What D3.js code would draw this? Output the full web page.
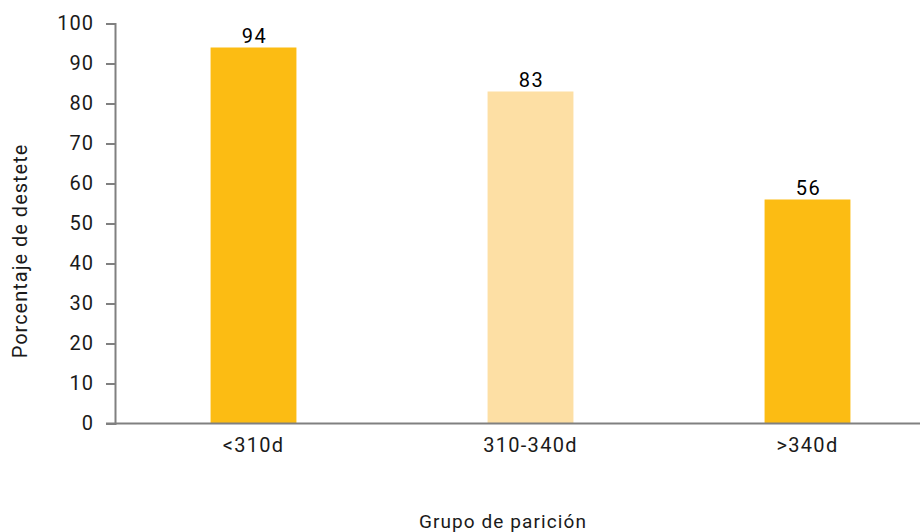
<!DOCTYPE html>
<html>
<head>
<meta charset="utf-8">
<script src="https://cdn.jsdelivr.net/npm/d3@7"></script>
<style>
  html, body { margin: 0; padding: 0; background: #fff; }
  svg text { font-family: Roboto, "Noto Sans", sans-serif; fill: #1a1a1a; }
</style>
</head>
<body>
<svg id="chart" width="920" height="532"></svg>
<script>
// Weaning percentage by calving group
const categories = ["<310d", "310-340d", ">340d"];
const values = [94, 83, 56];
const barColors = ["#FCBC13", "#FDDFA4", "#FCBC13"];
const yTicks = [0, 10, 20, 30, 40, 50, 60, 70, 80, 90, 100];

const svg = d3.select("#chart");
const axisColor = "#808080";

const x = d3.scaleBand()
  .domain(categories)
  .range([115, 946])
  .paddingInner(0.69)
  .paddingOuter(0.345);

const y = d3.scaleLinear().domain([0, 100]).range([423.5, 23.5]);

// Bars
svg.append("g").selectAll("rect")
  .data(values)
  .join("rect")
  .attr("x", (d, i) => x(categories[i]))
  .attr("y", d => y(d))
  .attr("width", x.bandwidth())
  .attr("height", d => y(0) - y(d))
  .attr("fill", (d, i) => barColors[i]);

// Value labels
svg.append("g").selectAll("text")
  .data(values)
  .join("text")
  .attr("x", (d, i) => x(categories[i]) + x.bandwidth() / 2 + 1)
  .attr("y", d => y(d) - 5)
  .attr("text-anchor", "middle")
  .attr("font-size", 20)
  .attr("letter-spacing", 1.5)
  .style("fill", "#000")
  .text(d => d);

// Y axis
const yAxis = svg.append("g")
  .attr("transform", "translate(115,0)")
  .call(d3.axisLeft(y).tickValues(yTicks).tickSize(9).tickPadding(12));
yAxis.select(".domain").attr("stroke", axisColor).attr("stroke-width", 2);
yAxis.selectAll(".tick line").attr("stroke", axisColor).attr("stroke-width", 2);
yAxis.selectAll(".tick text")
  .attr("font-size", 20)
  .attr("letter-spacing", 1)
  .attr("font-family", "Roboto, sans-serif")
  .style("fill", "#1a1a1a");

// X axis baseline
const xAxis = svg.append("g")
  .attr("transform", `translate(0,${y(0)})`)
  .call(d3.axisBottom(x).tickSize(0).tickPadding(14));
xAxis.select(".domain").attr("stroke", axisColor).attr("stroke-width", 2)
  .attr("d", "M106,0H920");
xAxis.selectAll(".tick text")
  .attr("font-size", 20)
  .attr("letter-spacing", 1.3)
  .attr("font-family", "Roboto, sans-serif")
  .style("fill", "#1a1a1a");

// Axis titles
svg.append("text")
  .attr("transform", "translate(27,251) rotate(-90)")
  .attr("text-anchor", "middle")
  .attr("font-size", 20)
  .attr("letter-spacing", 1)
  .text("Porcentaje de destete");

svg.append("text")
  .attr("x", 503)
  .attr("y", 528)
  .attr("text-anchor", "middle")
  .attr("font-size", 19)
  .attr("letter-spacing", 1.1)
  .text("Grupo de parición");
</script>
</body>
</html>
